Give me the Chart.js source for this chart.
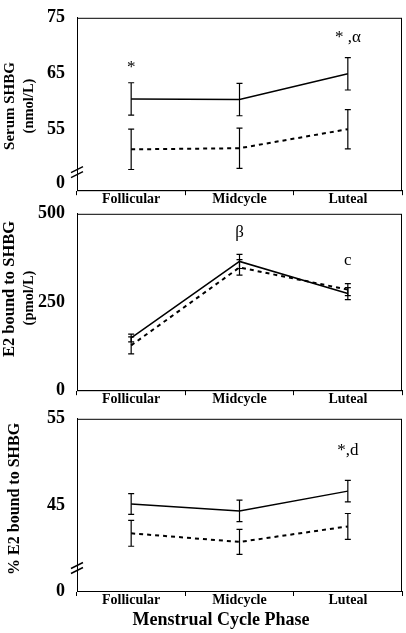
<!DOCTYPE html>
<html lang="en">
<head>
  <meta charset="UTF-8">
  <title>Menstrual Cycle Phase - SHBG</title>
  <script src="https://cdn.jsdelivr.net/npm/chart.js"></script>
  <style>
    body { margin: 0; background: #fff; }
    #wrap { position: relative; width: 406px; height: 633px; overflow: hidden; }
    #wrap canvas { position: absolute; left: 0; }
  </style>
</head>
<body>
  <div id="wrap">
    <canvas id="c1" width="406" height="218" style="top:-5px"></canvas>
    <canvas id="c2" width="406" height="222" style="top:191px"></canvas>
    <canvas id="c3" width="406" height="237" style="top:396px"></canvas>
  </div>

  <script>
    const phases = ['Follicular', 'Midcycle', 'Luteal'];

    // Serum SHBG (nmol/L)
    const shbgSolid = [60.5, 60.4, 65.0];
    const shbgSolidErr = [2.9, 2.9, 2.9];
    const shbgDashed = [51.5, 51.7, 55.1];
    const shbgDashedErr = [3.6, 3.6, 3.5];
    const shbgTicks = [45.4, 55, 65, 75];
    const shbgTickLabels = ['0', '55', '65', '75'];

    // E2 bound to SHBG (pmol/L)
    const e2Solid = [148, 365, 274];
    const e2SolidErr = [11, 20, 17];
    const e2Dashed = [127, 348, 285];
    const e2DashedErr = [24, 22, 17];
    const e2Ticks = [0, 250, 500];
    const e2TickLabels = ['0', '250', '500'];

    // % E2 bound to SHBG
    const pctSolid = [45.1, 44.3, 46.6];
    const pctSolidErr = [1.2, 1.25, 1.25];
    const pctDashed = [41.7, 40.7, 42.5];
    const pctDashedErr = [1.5, 1.45, 1.5];
    const pctTicks = [35, 45, 55];
    const pctTickLabels = ['0', '45', '55'];

    // significance marks: [text, category index, value at baseline]
    const shbgNotes = [['*', 0, 65.4], ['* ,\u03b1', 2, 70.6]];
    const e2Notes = [['\u03b2', 1, 433], ['c', 2, 356]];
    const pctNotes = [['*,d', 2, 50.8]];

    const serif = "'Liberation Serif', 'Times New Roman', serif";

    // frame, error bars, axis break, notes, titles
    const decor = {
      id: 'decor',
      afterDatasetsDraw(chart, args, o) {
        const ctx = chart.ctx;
        const a = chart.chartArea;
        const xs = chart.scales.x, ys = chart.scales.y;
        ctx.save();
        ctx.strokeStyle = '#000';
        ctx.lineWidth = 1;
        ctx.strokeRect(a.left + 0.5, a.top + 0.5, a.right - a.left - 1, a.bottom - a.top);

        // error bars
        ctx.lineWidth = 1.2;
        chart.data.datasets.forEach(ds => {
          ds.data.forEach((v, i) => {
            const x = xs.getPixelForValue(i);
            const yt = ys.getPixelForValue(v + ds.err[i]);
            const yb = ys.getPixelForValue(v - ds.err[i]);
            ctx.beginPath();
            ctx.moveTo(x, yt); ctx.lineTo(x, yb);
            ctx.moveTo(x - 3, yt); ctx.lineTo(x + 3, yt);
            ctx.moveTo(x - 3, yb); ctx.lineTo(x + 3, yb);
            ctx.stroke();
          });
        });

        // broken axis marks
        if (o.brk) {
          ctx.lineWidth = 1.5;
          const yb = a.bottom - o.brk;
          [-2.5, 2.5].forEach(d => {
            ctx.beginPath();
            ctx.moveTo(a.left - 6, yb + d + 3);
            ctx.lineTo(a.left + 6, yb + d - 3);
            ctx.stroke();
          });
        }

        // notes
        ctx.fillStyle = '#000';
        ctx.font = '17px ' + serif;
        ctx.textAlign = 'center';
        ctx.textBaseline = 'alphabetic';
        o.notes.forEach(n => {
          ctx.fillText(n[0], xs.getPixelForValue(n[1]), ys.getPixelForValue(n[2]));
        });

        // y titles
        ctx.textBaseline = 'middle';
        o.titles.forEach(t => {
          ctx.save();
          ctx.translate(t.x, a.top + (a.bottom - a.top) / 2 + t.dy);
          ctx.rotate(-Math.PI / 2);
          ctx.font = t.font;
          ctx.fillText(t.text, 0, 0);
          ctx.restore();
        });

        // x title
        if (o.xTitle) {
          ctx.font = 'bold 18px ' + serif;
          ctx.fillText(o.xTitle, 221, a.bottom + 29);
        }
        ctx.restore();
      }
    };

    function makeChart(id, solid, solidErr, dashed, dashedErr, yMin, yMax, ticks, tickLabels, notes, titles, brk, xTitle, xHeight) {
      return new Chart(document.getElementById(id), {
        type: 'line',
        data: {
          labels: phases,
          datasets: [
            { data: solid, err: solidErr, borderColor: '#000', borderWidth: 1.5, pointRadius: 0, tension: 0, fill: false },
            { data: dashed, err: dashedErr, borderColor: '#000', borderWidth: 2, borderDash: [4, 4], pointRadius: 0, tension: 0, fill: false }
          ]
        },
        options: {
          responsive: false,
          animation: false,
          layout: { padding: { top: 11, right: 4, left: 0, bottom: 0 } },
          plugins: {
            legend: { display: false },
            tooltip: { enabled: false },
            decor: { notes: notes, titles: titles, brk: brk, xTitle: xTitle }
          },
          scales: {
            x: {
              type: 'category',
              offset: true,
              grid: { offset: true, drawOnChartArea: false, drawTicks: true, tickLength: 5, color: '#000' },
              border: { color: '#000', width: 1 },
              ticks: { color: '#000', padding: -4, font: { family: serif, size: 14, weight: 'bold' } },
              afterFit: s => { s.height = xHeight; }
            },
            y: {
              min: yMin,
              max: yMax,
              afterBuildTicks: s => { s.ticks = ticks.map(v => ({ value: v })); },
              grid: { display: false, drawTicks: false },
              border: { color: '#000', width: 1 },
              ticks: {
                color: '#000', padding: 12,
                font: { family: serif, size: 18, weight: 'bold' },
                callback: v => tickLabels[ticks.indexOf(v)]
              },
              afterFit: s => { s.width = 77; }
            }
          }
        },
        plugins: [decor]
      });
    }

    const bold = sz => 'bold ' + sz + 'px ' + serif;

    makeChart('c1', shbgSolid, shbgSolidErr, shbgDashed, shbgDashedErr, 44.2, 75,
      shbgTicks, shbgTickLabels, shbgNotes,
      [{ text: 'Serum SHBG', x: 10, dy: 2, font: bold(15) },
       { text: '(nmol/L)', x: 29, dy: 2, font: bold(14.5) }],
      18, null, 22);

    makeChart('c2', e2Solid, e2SolidErr, e2Dashed, e2DashedErr, 0, 500,
      e2Ticks, e2TickLabels, e2Notes,
      [{ text: 'E2 bound to SHBG', x: 10, dy: -13, font: bold(16.5) },
       { text: '(pmol/L)', x: 29, dy: -4, font: bold(14.5) }],
      0, null, 22);

    makeChart('c3', pctSolid, pctSolidErr, pctDashed, pctDashedErr, 35, 55,
      pctTicks, pctTickLabels, pctNotes,
      [{ text: '% E2 bound to SHBG', x: 15, dy: -6, font: bold(16) }],
      23, 'Menstrual Cycle Phase', 42);
  </script>
</body>
</html>
